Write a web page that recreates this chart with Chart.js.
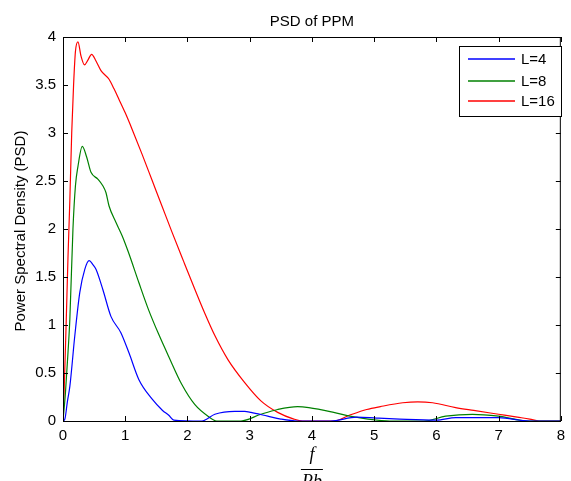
<!DOCTYPE html>
<html>
<head>
<meta charset="utf-8">
<script src="https://cdn.jsdelivr.net/npm/chart.js@4/dist/chart.umd.min.js"></script>
<style>
    body { margin: 0; background: #fff; }
    #wrap { width: 571px; height: 481px; }
</style>
</head>
<body>
<div id="wrap"><canvas id="psd" width="571" height="481"></canvas></div>
<script>
const TITLE = "PSD of PPM";
const Y_LABEL = "Power Spectral Density (PSD)";
const X_TICKS = [0, 1, 2, 3, 4, 5, 6, 7, 8];
const Y_TICKS = [0, 0.5, 1, 1.5, 2, 2.5, 3, 3.5, 4];
const SERIES_NAMES = ["L=4", "L=8", "L=16"];
const SERIES_COLORS = ["#0000ff", "#008000", "#ff0000"];

// L=4
const l4X = [0, 0.03, 0.07, 0.11, 0.19, 0.27, 0.35, 0.42, 0.48, 0.53, 0.64, 0.77, 0.93, 1.06, 1.22, 1.43, 1.60, 1.70, 1.78,
    2.23, 2.44, 2.76, 2.92, 3.02, 3.29, 3.5, 3.77, 4.3, 4.72, 5.04, 5.41, 6.0, 6.31, 7.0, 7.5, 8];
const l4Y = [0, 0.02, 0.2, 0.36, 0.89, 1.34, 1.58, 1.67, 1.63, 1.58, 1.37, 1.09, 0.92, 0.71, 0.43, 0.23, 0.11, 0.06, 0.01,
    0, 0.07, 0.10, 0.10, 0.09, 0.05, 0.02, 0, 0, 0.04, 0.03, 0.02, 0.01, 0.035, 0.035, 0, 0];

// L=8
const l8X = [0, 0.04, 0.08, 0.11, 0.16, 0.20, 0.24, 0.31, 0.38, 0.45, 0.56, 0.64, 0.69, 0.74, 0.85, 0.95, 1.05, 1.22, 1.38, 1.54,
    1.70, 1.91, 2.12, 2.33, 2.47, 2.86, 3.18, 3.45, 3.77, 3.95, 4.35, 4.61, 4.9, 5.25, 5.8, 6.15, 6.58, 7.0, 7.47, 8];
const l8Y = [0, 0.3, 0.71, 1.06, 2.0, 2.45, 2.65, 2.86, 2.75, 2.59, 2.52, 2.45, 2.38, 2.24, 2.07, 1.93, 1.76, 1.44, 1.15, 0.90,
    0.67, 0.38, 0.17, 0.05, 0, 0, 0.07, 0.12, 0.15, 0.14, 0.09, 0.05, 0.02, 0, 0, 0.05, 0.07, 0.05, 0, 0];

// L=16
const l16X = [0, 0.02, 0.05, 0.08, 0.11, 0.14, 0.17, 0.20, 0.24, 0.29, 0.345, 0.40, 0.46, 0.53, 0.61, 0.74, 0.82, 0.90, 1.0,
    1.11, 1.27, 1.43, 1.59, 1.75, 1.94, 2.12, 2.28, 2.44, 2.65, 2.92, 3.18, 3.45, 3.71, 3.85, 4.35, 4.6, 4.88, 5.1, 5.46,
    5.7, 5.94, 6.31, 6.6, 7.0, 7.3, 7.5, 7.65, 8];
const l16Y = [0, 0.35, 1.0, 1.7, 2.3, 3.0, 3.5, 3.85, 3.95, 3.8, 3.71, 3.76, 3.82, 3.75, 3.65, 3.56, 3.46, 3.35, 3.21,
    3.04, 2.78, 2.51, 2.24, 1.97, 1.66, 1.37, 1.12, 0.89, 0.64, 0.40, 0.21, 0.09, 0.02, 0, 0, 0.06, 0.12, 0.15, 0.19,
    0.2, 0.19, 0.14, 0.11, 0.07, 0.04, 0.02, 0, 0];

const FONT = "'Liberation Sans', Arial, sans-serif";

function points(xs, ys) {
    return xs.map((x, i) => ({x: x, y: ys[i]}));
}

const matlabDecor = {
    id: "matlabDecor",
    afterDraw(chart) {
        const ctx = chart.ctx;
        const a = chart.chartArea;
        const xs = chart.scales.x;
        const ys = chart.scales.y;
        ctx.save();

        // box and inward ticks
        ctx.strokeStyle = "#000";
        ctx.lineWidth = 1;
        ctx.strokeRect(a.left + 0.5, a.top + 0.5, a.right - a.left - 1, a.bottom - a.top);
        ctx.beginPath();
        X_TICKS.forEach(v => {
            const px = Math.round(xs.getPixelForValue(v)) + 0.5;
            ctx.moveTo(px, a.bottom);
            ctx.lineTo(px, a.bottom - 5);
            ctx.moveTo(px, a.top);
            ctx.lineTo(px, a.top + 5);
        });
        Y_TICKS.forEach(v => {
            const py = Math.round(ys.getPixelForValue(v)) + 0.5;
            ctx.moveTo(a.left, py);
            ctx.lineTo(a.left + 5, py);
            ctx.moveTo(a.right, py);
            ctx.lineTo(a.right - 5, py);
        });
        ctx.stroke();

        // title
        ctx.fillStyle = "#000";
        ctx.font = "15px " + FONT;
        ctx.textAlign = "center";
        ctx.textBaseline = "alphabetic";
        ctx.fillText(TITLE, (a.left + a.right) / 2, 26);

        // y label
        ctx.save();
        ctx.translate(25, 231);
        ctx.rotate(-Math.PI / 2);
        ctx.fillText(Y_LABEL, 0, 0);
        ctx.restore();

        // x label: f / Rb
        const cx = (a.left + a.right) / 2;
        ctx.font = "italic 18px 'Liberation Serif', serif";
        ctx.fillText("f", cx, 460);
        ctx.beginPath();
        ctx.moveTo(cx - 11, 469.5);
        ctx.lineTo(cx + 11, 469.5);
        ctx.stroke();
        ctx.fillText("Rb", cx, 487);

        // legend
        const lx = 459, ly = 46, lw = 102, lh = 70;
        ctx.fillStyle = "#fff";
        ctx.fillRect(lx, ly, lw, lh);
        ctx.strokeStyle = "#000";
        ctx.strokeRect(lx + 0.5, ly + 0.5, lw, lh);
        ctx.font = "15px " + FONT;
        ctx.textAlign = "left";
        ctx.textBaseline = "middle";
        const rows = [59, 81, 101];
        SERIES_NAMES.forEach((name, i) => {
            ctx.strokeStyle = SERIES_COLORS[i];
            ctx.lineWidth = 1.3;
            ctx.beginPath();
            ctx.moveTo(468, rows[i]);
            ctx.lineTo(515, rows[i]);
            ctx.stroke();
            ctx.fillStyle = "#000";
            ctx.fillText(name, 521, rows[i] + 1);
        });
        ctx.restore();
    }
};

const datasets = [points(l4X, l4Y), points(l8X, l8Y), points(l16X, l16Y)].map((data, i) => ({
    label: SERIES_NAMES[i],
    data: data,
    borderColor: SERIES_COLORS[i],
    backgroundColor: SERIES_COLORS[i],
    borderWidth: 1.2,
    pointRadius: 0,
    cubicInterpolationMode: "monotone",
    fill: false
}));

new Chart(document.getElementById("psd"), {
    type: "line",
    data: {datasets: datasets},
    options: {
        responsive: false,
        animation: false,
        layout: {padding: {top: 37, right: 4, left: 0, bottom: 0}},
        plugins: {
            legend: {display: false},
            title: {display: false},
            tooltip: {enabled: false}
        },
        scales: {
            x: {
                type: "linear",
                min: 0,
                max: 8,
                afterFit: s => { s.height = 60; },
                afterBuildTicks: s => { s.ticks = X_TICKS.map(v => ({value: v})); },
                grid: {display: false, drawTicks: false},
                border: {display: false},
                ticks: {color: "#000", padding: 6, font: {family: FONT, size: 15}, maxRotation: 0,
                    callback: v => String(v)}
            },
            y: {
                type: "linear",
                min: 0,
                max: 4,
                afterFit: s => { s.width = 63; },
                afterBuildTicks: s => { s.ticks = Y_TICKS.map(v => ({value: v})); },
                grid: {display: false, drawTicks: false},
                border: {display: false},
                ticks: {color: "#000", padding: 7, font: {family: FONT, size: 15},
                    callback: v => String(v)}
            }
        }
    },
    plugins: [matlabDecor]
});
</script>
</body>
</html>
